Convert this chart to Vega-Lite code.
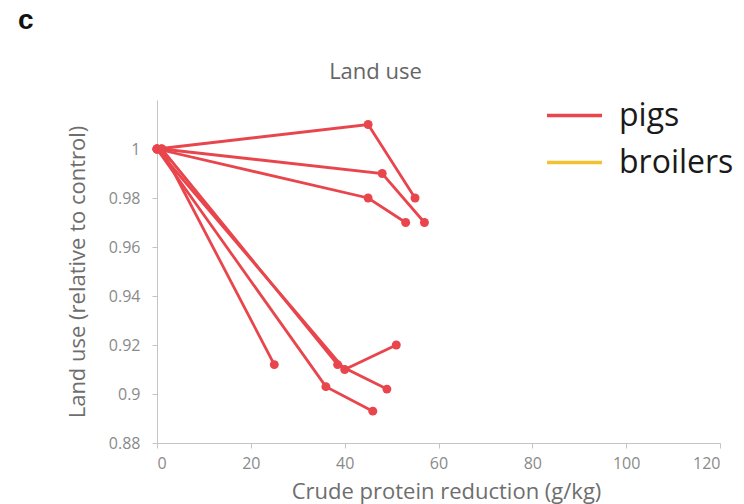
{
  "$schema": "https://vega.github.io/schema/vega-lite/v6.json",
  "width": 563,
  "height": 343,
  "autosize": {"type": "none"},
  "padding": {"left": 157, "top": 100, "right": 24, "bottom": 61},
  "background": "white",
  "config": {
    "font": "Open Sans",
    "view": {"stroke": null},
    "axis": {
      "grid": false,
      "domainColor": "#c4c4c4",
      "tickColor": "#c4c4c4",
      "tickSize": 5,
      "labelColor": "#8a8a8a",
      "labelFontSize": 16,
      "titleColor": "#6e6e6e",
      "titleFontSize": 22,
      "titleFontWeight": "normal"
    }
  },
  "title": {
    "text": "c",
    "anchor": "start",
    "frame": "group",
    "dx": -139,
    "offset": 25,
    "font": "Liberation Sans",
    "fontSize": 28,
    "fontWeight": "bold",
    "color": "#111111"
  },
  "data": {
    "values": [
      {"id": "A", "step": 0, "species": "pigs", "cp": 0, "land": 1.0},
      {"id": "A", "step": 1, "species": "pigs", "cp": 45, "land": 1.01},
      {"id": "A", "step": 2, "species": "pigs", "cp": 55, "land": 0.98},
      {"id": "B", "step": 0, "species": "pigs", "cp": 1, "land": 1.0},
      {"id": "B", "step": 1, "species": "pigs", "cp": 48, "land": 0.99},
      {"id": "B", "step": 2, "species": "pigs", "cp": 57, "land": 0.97},
      {"id": "C", "step": 0, "species": "pigs", "cp": 0, "land": 1.0},
      {"id": "C", "step": 1, "species": "pigs", "cp": 45, "land": 0.98},
      {"id": "C", "step": 2, "species": "pigs", "cp": 53, "land": 0.97},
      {"id": "D", "step": 0, "species": "pigs", "cp": 1, "land": 1.0},
      {"id": "D", "step": 1, "species": "pigs", "cp": 25, "land": 0.912},
      {"id": "E", "step": 0, "species": "pigs", "cp": 0, "land": 1.0},
      {"id": "E", "step": 1, "species": "pigs", "cp": 36, "land": 0.903},
      {"id": "E", "step": 2, "species": "pigs", "cp": 46, "land": 0.893},
      {"id": "F", "step": 0, "species": "pigs", "cp": 1, "land": 1.0},
      {"id": "F", "step": 1, "species": "pigs", "cp": 38.5, "land": 0.912},
      {"id": "F", "step": 2, "species": "pigs", "cp": 49, "land": 0.902},
      {"id": "G", "step": 0, "species": "pigs", "cp": 0, "land": 1.0},
      {"id": "G", "step": 1, "species": "pigs", "cp": 40, "land": 0.91},
      {"id": "G", "step": 2, "species": "pigs", "cp": 51, "land": 0.92}
    ]
  },
  "encoding": {
    "x": {
      "field": "cp",
      "type": "quantitative",
      "scale": {"domain": [0, 120], "nice": false, "zero": false}
    },
    "y": {
      "field": "land",
      "type": "quantitative",
      "scale": {"domain": [0.88, 1.02], "nice": false, "zero": false},
      "axis": {
        "title": "Land use (relative to control)",
        "values": [0.88, 0.9, 0.92, 0.94, 0.96, 0.98, 1.0],
        "format": ".2~f",
        "labelPadding": 12,
        "titlePadding": 19
      }
    },
    "color": {
      "field": "species",
      "type": "nominal",
      "scale": {"domain": ["pigs", "broilers"], "range": ["#e8454c", "#f2c230"]},
      "legend": {
        "title": null,
        "orient": "none",
        "legendX": 388,
        "legendY": -14,
        "symbolType": "stroke",
        "symbolSize": 3025,
        "symbolStrokeWidth": 3.5,
        "labelFont": "Open Sans",
        "labelFontSize": 32,
        "labelColor": "#1a1a1a",
        "labelOffset": 15,
        "labelLimit": 300,
        "rowPadding": 1,
        "symbolOffset": 0
      }
    }
  },
  "layer": [
    {
      "mark": {"type": "line", "strokeWidth": 2.8},
      "encoding": {
        "detail": {"field": "id"},
        "order": {"field": "step", "type": "quantitative"},
        "x": {
          "field": "cp",
          "type": "quantitative",
          "axis": {
            "title": "Crude protein reduction (g/kg)",
            "values": [0, 20, 40, 60, 80, 100, 120],
            "labelPadding": 7,
            "titleX": 289,
            "titleY": 55,
            "titleAlign": "center",
            "titleBaseline": "alphabetic"
          }
        }
      }
    },
    {
      "mark": {"type": "point", "filled": true, "size": 80, "opacity": 1},
      "encoding": {
        "x": {
          "field": "cp",
          "type": "quantitative",
          "axis": {
            "orient": "top",
            "title": "Land use",
            "labels": false,
            "ticks": false,
            "domain": false,
            "titleColor": "#666666",
            "titleFontSize": 22,
            "titleX": 218,
            "titleY": -22,
            "titleAlign": "center",
            "titleBaseline": "alphabetic"
          }
        }
      }
    }
  ],
  "resolve": {"axis": {"x": "independent"}}
}
